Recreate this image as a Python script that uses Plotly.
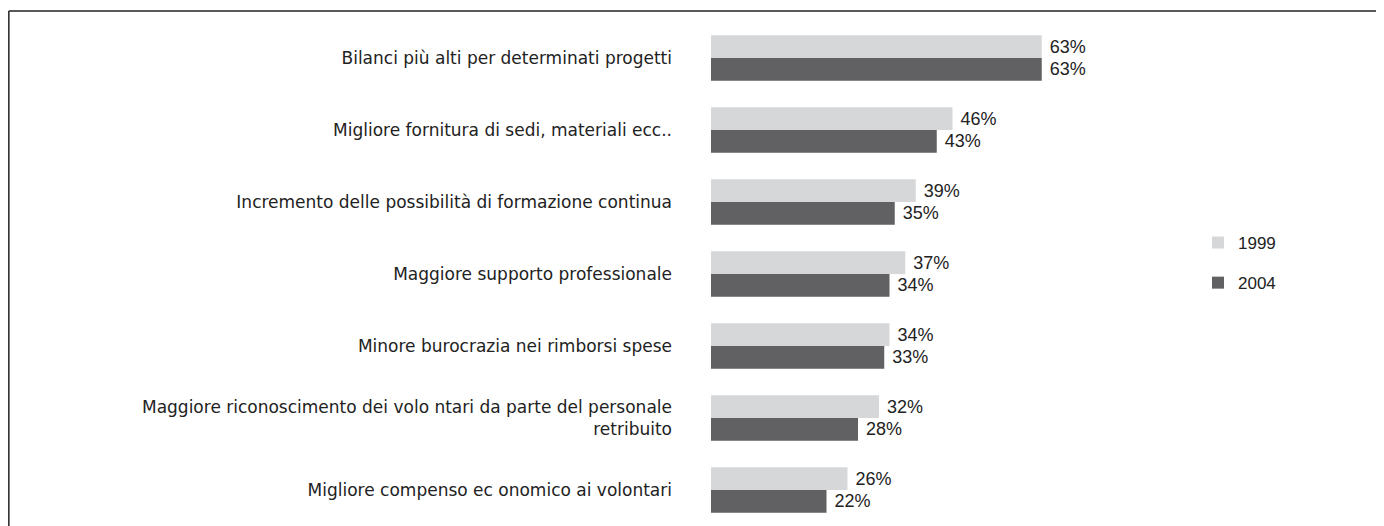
import plotly.graph_objects as go

categories = [
    "Bilanci più alti per determinati progetti",
    "Migliore fornitura di sedi, materiali ecc..",
    "Incremento delle possibilità di formazione continua",
    "Maggiore supporto professionale",
    "Minore burocrazia nei rimborsi spese",
    "Maggiore riconoscimento dei volo ntari da parte del personale<br>retribuito",
    "Migliore compenso ec onomico ai volontari",
]
values_1999 = [63, 46, 39, 37, 34, 32, 26]
values_2004 = [63, 43, 35, 34, 33, 28, 22]
series_names = ["1999", "2004"]

# page body adds an 8px offset; compensate
OFF = 8
W, H = 1384 - OFF, 526 - OFF
L, T = 711 - OFF, 22 - OFF
PW = 420
PH = H - T

fig = go.Figure()
for name, vals, col in [(series_names[0], values_1999, "#d6d7d9"),
                        (series_names[1], values_2004, "#616163")]:
    fig.add_trace(go.Bar(
        y=categories, x=vals, name=name, orientation="h",
        marker=dict(color=col, line=dict(width=0)),
        text=[f" {v}%" for v in vals], textposition="outside",
        textfont=dict(family="Liberation Sans, Arial", size=18, color="#222222"),
        cliponaxis=False, legendgroup=name,
    ))

fig.update_layout(
    width=W, height=H,
    margin=dict(l=L, r=W - L - PW, t=T, b=0, autoexpand=False),
    paper_bgcolor="white", plot_bgcolor="white",
    barmode="group", bargap=0.37, bargroupgap=0,
    showlegend=True,
    legend=dict(x=(1198 - OFF - L) / PW, y=1 - (225 - OFF - T) / PH, xanchor="left", yanchor="top",
                traceorder="grouped", tracegroupgap=15,
                font=dict(family="Liberation Sans, Arial", size=17, color="#222222"),
                itemwidth=30, bgcolor="rgba(0,0,0,0)"),
    xaxis=dict(range=[0, PW / 5.25], showgrid=False, zeroline=False,
               showticklabels=False, showline=False, fixedrange=True),
    yaxis=dict(autorange="reversed", showgrid=False, zeroline=False, showline=False,
               ticks="", ticklabelstandoff=38,
               tickfont=dict(family="DejaVu Sans, Verdana", size=17, color="#222222")),
    font=dict(family="DejaVu Sans", color="#222222"),
)

x_left = (8 - OFF - L) / PW + 0.002
x_right = (W - L) / PW
y_top = 1 + (T - (11 - OFF)) / PH
fig.add_shape(type="line", xref="paper", yref="paper", x0=x_left, x1=x_right, y0=y_top, y1=y_top,
              line=dict(color="#222222", width=1.5))
fig.add_shape(type="line", xref="paper", yref="paper", x0=x_left, x1=x_left, y0=y_top, y1=-0.05,
              line=dict(color="#222222", width=1.5))

fig.write_html("out.html")
